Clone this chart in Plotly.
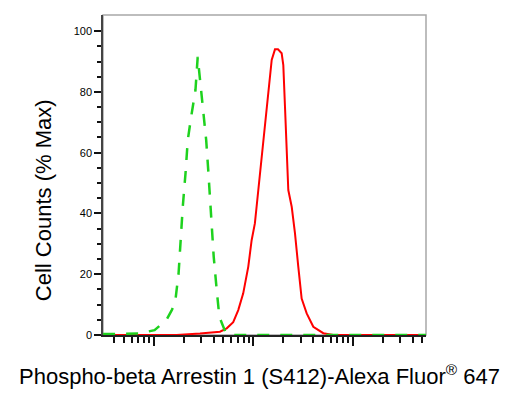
import plotly.graph_objects as go

# Data (x: fluorescence intensity, log scale; y: % of max)
control_x = [3.1, 5.0, 7.2, 10.2, 13.4, 15.2, 16.4, 17.8, 18.6, 19.6, 20.9, 22.0, 23.8, 26.3, 27.7,
             30.0, 31.6, 33.7, 35.5, 37.8, 40.1, 43.0, 45.7, 53.3, 61.7, 150, 1000, 5500]
control_y = [0.3, 0.3, 0.5, 1.6, 4.9, 8.2, 10.5, 20.4, 31.2, 42.2, 53.3, 64.1, 71.8, 80.6, 91.5,
             80.6, 71.8, 64.1, 53.3, 40.0, 25.8, 14.8, 6.0, 0.5, 0.0, 0.0, 0.0, 0.0]

sample_x = [3.1, 17, 29.2, 39.7, 46.4, 54.2, 63, 70.8, 79.4, 89.3, 96.5, 104, 112.5, 121.7, 131.4,
            141.9, 153.5, 165.6, 177.5, 193.3, 200.8, 208.8, 217.2, 225.4, 243.9, 263, 284, 307,
            345, 402, 507, 638, 5500]
sample_y = [0.0, 0.0, 0.5, 0.8, 1.1, 2.2, 4.2, 8.2, 13.7, 22.5, 31.2, 36.7, 47.7, 58.7, 69.6,
            80.6, 90.5, 94.0, 94.0, 92.7, 88.8, 75.1, 60.9, 47.7, 42.2, 33.5, 22.5, 12.0,
            7.1, 2.7, 0.6, 0.0, 0.0]

y_major = [0, 20, 40, 60, 80, 100]
y_minor = [v for v in range(5, 100, 5) if v % 20 != 0]
x_major = [10, 100, 1000]
x_minor = [4, 5, 6, 7, 8, 9] + [d * 10 for d in range(2, 10)] + [d * 100 for d in range(2, 10)] + [2000, 3000, 4000, 5000]

x_title = "Phospho-beta Arrestin 1 (S412)-Alexa Fluor<sup>®</sup> 647"
y_title = "Cell Counts (% Max)"

FONT = "Arial, Liberation Sans, sans-serif"

fig = go.Figure()
fig.add_trace(go.Scatter(x=sample_x, y=sample_y, mode="lines",
                         line=dict(color="#ff0000", width=2), showlegend=False, cliponaxis=False))
fig.add_trace(go.Scatter(x=control_x, y=control_y, mode="lines",
                         line=dict(color="#1ed21e", width=2.5, dash="12px,11px"),
                         showlegend=False, cliponaxis=False))

# page body adds an 8px offset, so the figure is sized to 517x391
fig.update_layout(
    width=517, height=391,
    margin=dict(l=95, r=99, t=7, b=64, autoexpand=False),
    paper_bgcolor="white", plot_bgcolor="white",
    font=dict(family=FONT, color="black"),
    shapes=[dict(type="rect", xref="paper", yref="paper", x0=0, x1=1, y0=0, y1=1,
                 line=dict(color="#a8a8a8", width=1.5), layer="below")],
    annotations=[
        dict(text=x_title, xref="paper", yref="paper", x=0.486, y=-0.125,
             xanchor="center", yanchor="middle", showarrow=False,
             font=dict(size=22, family=FONT, color="black")),
        dict(text=y_title, xref="paper", yref="paper", x=-0.182, y=0.422,
             xanchor="center", yanchor="middle", showarrow=False, textangle=-90,
             font=dict(size=22, family=FONT, color="black")),
    ],
)

fig.update_xaxes(
    type="log", range=[0.4905, 3.737], showgrid=False, zeroline=False,
    showline=True, linecolor="#222222", linewidth=2,
    tickmode="array", tickvals=x_major, showticklabels=False,
    ticks="outside", ticklen=9, tickwidth=2, tickcolor="#111111",
    minor=dict(tickmode="array", tickvals=x_minor, ticks="outside", ticklen=6,
               tickwidth=1.5, tickcolor="#111111", showgrid=False),
)
fig.update_yaxes(
    range=[0, 105.3], showgrid=False, zeroline=False,
    showline=True, linecolor="#444444", linewidth=1.5,
    tickmode="array", tickvals=y_major, ticktext=[str(v) for v in y_major],
    ticks="outside", ticklen=7, tickwidth=2, tickcolor="#111111",
    tickfont=dict(size=11, family=FONT, color="black"),
    minor=dict(tickmode="array", tickvals=y_minor, ticks="outside", ticklen=4,
               tickwidth=1.5, tickcolor="#111111", showgrid=False),
)

fig.write_html("out.html")
